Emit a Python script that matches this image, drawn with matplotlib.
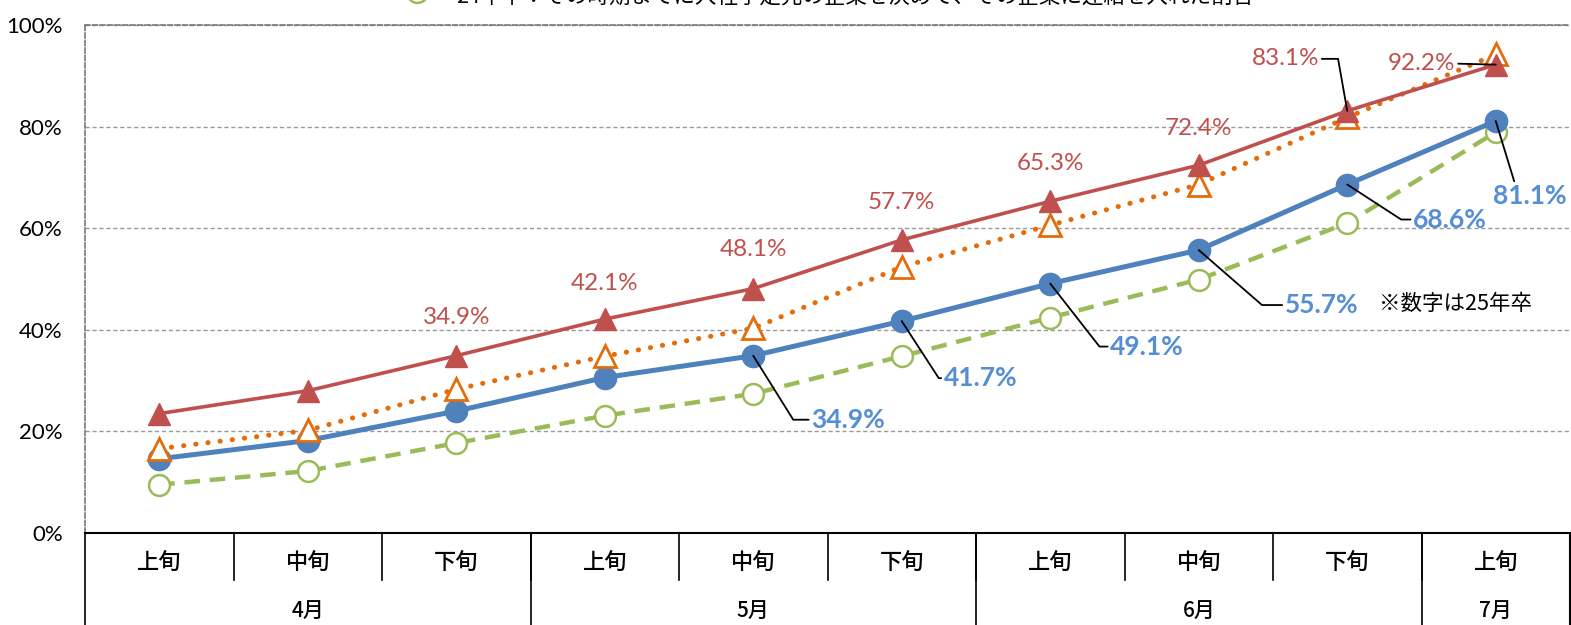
import matplotlib.pyplot as plt
from matplotlib.lines import Line2D

plt.rcParams['font.family'] = ['Lato', 'Noto Sans CJK JP', 'DejaVu Sans']

periods = ['上旬', '中旬', '下旬', '上旬', '中旬', '下旬', '上旬', '中旬', '下旬', '上旬']
months = ['4月', '5月', '6月', '7月']
month_span = [(0, 2), (3, 5), (6, 8), (9, 9)]

# 25年卒
naitei_25 = [23.5, 28.0, 34.9, 42.1, 48.1, 57.7, 65.3, 72.4, 83.1, 92.2]
renraku_25 = [14.6, 18.2, 24.0, 30.6, 34.9, 41.7, 49.1, 55.7, 68.6, 81.1]
# 24年卒
naitei_24 = [16.6, 20.2, 28.3, 34.8, 40.3, 52.4, 60.6, 68.6, 81.8, 94.2]
renraku_24 = [9.5, 12.2, 17.7, 23.1, 27.4, 34.8, 42.4, 49.9, 61.0, 78.9]

red = '#C0504D'
orange = '#E46C0A'
blue = '#4F81BD'
green = '#9BBB59'
blue_txt = '#558ED5'

fig = plt.figure(figsize=(15.71, 6.25), dpi=100)
ax = fig.add_axes([85 / 1571, 1 - 533 / 625, 1485 / 1571, 508 / 625])

x = list(range(len(periods)))
ax.plot(x, renraku_24, color=green, lw=3.2, ls=(0, (3.5, 2.2)), marker='o', ms=15,
        mfc='white', mec=green, mew=1.8, zorder=3)
ax.plot(x, renraku_25, color=blue, lw=3.6, marker='o', ms=16, mfc=blue, mec=blue, zorder=4)
ax.plot(x, naitei_24, color=orange, lw=3.6, ls=(0, (0.05, 2.4)), dash_capstyle='round',
        marker='^', ms=16, mfc='white', mec=orange, mew=2, zorder=5)
ax.plot(x, naitei_25, color=red, lw=2.6, marker='^', ms=16, mfc=red, mec=red, zorder=6)

ax.set_xlim(-0.5, len(periods) - 0.5)
ax.set_ylim(0, 100)
ax.set_yticks([0, 20, 40, 60, 80, 100])
ax.set_yticklabels([f'{v}%' for v in range(0, 101, 20)], fontsize=16)
ax.tick_params(axis='y', length=0, pad=16)
ax.set_xticks([])
ax.yaxis.grid(True, color='#999999', ls=(0, (3, 2)), lw=1)
for s in ['left', 'top']:
    ax.spines[s].set_color('#777777')
    ax.spines[s].set_linestyle((0, (3, 1.5)))
    ax.spines[s].set_linewidth(1.2)
ax.spines['right'].set_visible(False)
ax.spines['bottom'].set_color('black')
ax.spines['bottom'].set_linewidth(1.5)

# category table under the axis
trans = ax.get_xaxis_transform()
for i in range(1, len(periods)):
    ax.plot([i - 0.5, i - 0.5], [0, -0.093], color='black', lw=1.2, transform=trans, clip_on=False)
for a, b in month_span:
    ax.plot([a - 0.5, a - 0.5], [0, -0.2], color='black', lw=1.2, transform=trans, clip_on=False)
ax.plot([len(periods) - 0.5] * 2, [0, -0.2], color='black', lw=1.5, transform=trans, clip_on=False)
for i, p in enumerate(periods):
    ax.text(i, -0.06, p, transform=trans, ha='center', va='center', fontsize=16,
            family='Noto Sans CJK JP', fontweight='medium')
for m, (a, b) in zip(months, month_span):
    ax.text((a + b) / 2, -0.156, m, transform=trans, ha='center', va='center', fontsize=15,
            family='Noto Sans CJK JP', fontweight='medium')

# red value labels
red_off = [None, None, (0, 38), (0, 36), (0, 39), (0, 37), (0, 38), (0, 37), (-62, 52), (-74, 1)]
for i, off in enumerate(red_off):
    if off is None:
        continue
    ap = None
    if i == 8:
        ap = dict(arrowstyle='-', color='black', lw=1.3, shrinkA=0, shrinkB=0, relpos=(1, 0.5),
                  connectionstyle='angle,angleA=0,angleB=100,rad=0')
    elif i == 9:
        ap = dict(arrowstyle='-', color='black', lw=1.3, shrinkA=0, shrinkB=0, relpos=(1, 0.5))
    ax.annotate(f'{naitei_25[i]:.1f}%', (i, naitei_25[i]), xytext=off, textcoords='offset pixels',
                ha='center', va='center', fontsize=17.5, color=red, arrowprops=ap, zorder=8,
                annotation_clip=False)

# blue value labels with leader lines
blue_off = {4: (95, -64, 58), 5: (79, -57, 57), 6: (97, -63, 52), 7: (123, -55, 41), 8: (103, -35, 33)}
for i, (dx, dy, ang) in blue_off.items():
    ax.annotate(f'{renraku_25[i]:.1f}%', (i, renraku_25[i]), xytext=(dx, dy),
                textcoords='offset pixels', ha='center', va='center', fontsize=19,
                fontweight='bold', color=blue_txt, zorder=8,
                arrowprops=dict(arrowstyle='-', color='black', lw=1.3, shrinkA=0, shrinkB=0,
                                relpos=(0, 0.5),
                                connectionstyle=f'angle,angleA=0,angleB={-ang},rad=0'))
ax.annotate(f'{renraku_25[9]:.1f}%', (9, renraku_25[9]), xytext=(34, -75),
            textcoords='offset pixels', ha='center', va='center', fontsize=19,
            fontweight='bold', color=blue_txt, zorder=8, annotation_clip=False,
            arrowprops=dict(arrowstyle='-', color='black', lw=1.3, shrinkA=0, shrinkB=0,
                            relpos=(0.3, 1)))

ax.text(0.9226, 0.45, '※数字は25年卒', transform=ax.transAxes, ha='center', va='center',
        fontsize=15.5, family='Noto Sans CJK JP', color='black')

# legend entry partly above the figure edge
fig.add_artist(Line2D([385 / 1571, 417 / 1571, 449 / 1571], [1.0125] * 3, color=green, lw=3.2,
                      ls=(0, (3.5, 2.2)), marker='o', markevery=[1], ms=15,
                      mfc='white', mec=green, mew=1.8))
fig.text(456 / 1571, 1.005, '24年卒：その時期までに入社予定先の企業を決めて、その企業に連絡を入れた割合',
         ha='left', va='center', fontsize=15.5, family='Noto Sans CJK JP')

fig.savefig('out.png', dpi=100)
